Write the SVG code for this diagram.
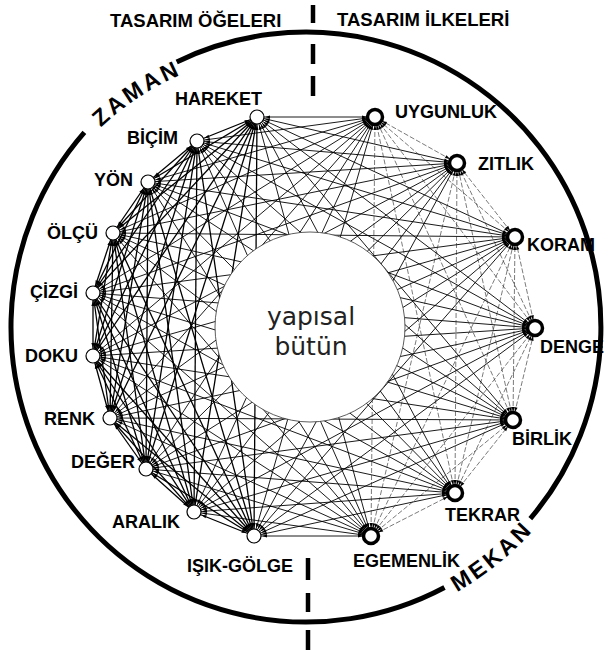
<svg xmlns="http://www.w3.org/2000/svg" width="604" height="655" viewBox="0 0 604 655">
<style>
text{font-family:"Liberation Sans",Arial,sans-serif;fill:#000}
.hd{font-size:18.5px;font-weight:bold}
.lb{font-size:18px;font-weight:bold}
.ring{font-size:23px;font-weight:bold;letter-spacing:3px}
.arc{fill:none;stroke:#000;stroke-width:5}
.dash{stroke:#000;stroke-width:4.5}
#edges path{fill:none;stroke:#000;marker-start:url(#ah);marker-end:url(#ah)}
#edges .ll path{stroke-width:1.3}
#edges .lr path{stroke-width:0.9}
#edges .rr path{stroke-width:0.6;stroke:#222;stroke-dasharray:5 2}
.el{fill:#fff;stroke:#000;stroke-width:1.2}
.pr{fill:#fff;stroke:#000;stroke-width:3.5}
.ct{font-family:"DejaVu Sans",sans-serif;font-size:25px;fill:#222}
</style>
<defs>
<marker id="ah" markerUnits="userSpaceOnUse" markerWidth="12" markerHeight="12" refX="8" refY="0" orient="auto-start-reverse" overflow="visible">
<path d="M0,0 L-5,-1.6 L-5,1.6 Z" fill="#000"/>
</marker>
<path id="zp" d="M72.2,159.1 A279,279 0 0 1 223.0,60.4"/>
<path id="mp" d="M410.3,613.6 A305,305 0 0 0 564.6,488.6"/>
</defs>
<rect width="604" height="655" fill="#fff"/>

<g id="frame">
<path class="arc" d="M176.7,61.9 A295,295 0 0 1 530.3,518.6"/>
<path class="arc" d="M444.5,587.5 A295,295 0 0 1 84.4,132.3"/>
<text class="ring"><textPath href="#zp" startOffset="50%" text-anchor="middle">ZAMAN</textPath></text>
<text class="ring"><textPath href="#mp" startOffset="50%" text-anchor="middle">MEKAN</textPath></text>
<line class="dash" x1="313" y1="5" x2="313" y2="23"/>
<line class="dash" x1="313" y1="44" x2="313" y2="64"/>
<line class="dash" x1="313" y1="76" x2="313" y2="96"/>
<line class="dash" x1="308" y1="558" x2="308" y2="580"/>
<line class="dash" x1="308" y1="593" x2="308" y2="612"/>
<line class="dash" x1="308" y1="630" x2="308" y2="650"/>
<text class="hd" x="110" y="27">TASARIM ÖĞELERI</text>
<text class="hd" x="337" y="26">TASARIM İLKELERİ</text>
</g>

<g id="edges">
<g class="ll">
<path d="M257 117L197 141"/><path d="M257 117L148 182"/><path d="M257 117L113 233"/><path d="M257 117L93 293"/><path d="M257 117L93 356"/><path d="M257 117L110 418"/><path d="M257 117L146 469"/><path d="M257 117L194 512"/><path d="M257 117L254 536"/>
<path d="M197 141L148 182"/><path d="M197 141L113 233"/><path d="M197 141L93 293"/><path d="M197 141L93 356"/><path d="M197 141L110 418"/><path d="M197 141L146 469"/><path d="M197 141L194 512"/><path d="M197 141L254 536"/>
<path d="M148 182L113 233"/><path d="M148 182L93 293"/><path d="M148 182L93 356"/><path d="M148 182L110 418"/><path d="M148 182L146 469"/><path d="M148 182L194 512"/><path d="M148 182L254 536"/>
<path d="M113 233L93 293"/><path d="M113 233L93 356"/><path d="M113 233L110 418"/><path d="M113 233L146 469"/><path d="M113 233L194 512"/><path d="M113 233L254 536"/>
<path d="M93 293L93 356"/><path d="M93 293L110 418"/><path d="M93 293L146 469"/><path d="M93 293L194 512"/><path d="M93 293L254 536"/>
<path d="M93 356L110 418"/><path d="M93 356L146 469"/><path d="M93 356L194 512"/><path d="M93 356L254 536"/>
<path d="M110 418L146 469"/><path d="M110 418L194 512"/><path d="M110 418L254 536"/>
<path d="M146 469L194 512"/><path d="M146 469L254 536"/>
<path d="M194 512L254 536"/>
</g>
<g class="lr">
<path d="M257 117L371 536"/><path d="M257 117L455 493"/><path d="M257 117L513 420"/><path d="M257 117L535 328"/><path d="M257 117L515 237"/><path d="M257 117L457 163"/><path d="M257 117L375 117"/>
<path d="M197 141L371 536"/><path d="M197 141L455 493"/><path d="M197 141L513 420"/><path d="M197 141L535 328"/><path d="M197 141L515 237"/><path d="M197 141L457 163"/><path d="M197 141L375 117"/>
<path d="M148 182L371 536"/><path d="M148 182L455 493"/><path d="M148 182L513 420"/><path d="M148 182L535 328"/><path d="M148 182L515 237"/><path d="M148 182L457 163"/><path d="M148 182L375 117"/>
<path d="M113 233L371 536"/><path d="M113 233L455 493"/><path d="M113 233L513 420"/><path d="M113 233L535 328"/><path d="M113 233L515 237"/><path d="M113 233L457 163"/><path d="M113 233L375 117"/>
<path d="M93 293L371 536"/><path d="M93 293L455 493"/><path d="M93 293L513 420"/><path d="M93 293L535 328"/><path d="M93 293L515 237"/><path d="M93 293L457 163"/><path d="M93 293L375 117"/>
<path d="M93 356L371 536"/><path d="M93 356L455 493"/><path d="M93 356L513 420"/><path d="M93 356L535 328"/><path d="M93 356L515 237"/><path d="M93 356L457 163"/><path d="M93 356L375 117"/>
<path d="M110 418L371 536"/><path d="M110 418L455 493"/><path d="M110 418L513 420"/><path d="M110 418L535 328"/><path d="M110 418L515 237"/><path d="M110 418L457 163"/><path d="M110 418L375 117"/>
<path d="M146 469L371 536"/><path d="M146 469L455 493"/><path d="M146 469L513 420"/><path d="M146 469L535 328"/><path d="M146 469L515 237"/><path d="M146 469L457 163"/><path d="M146 469L375 117"/>
<path d="M194 512L371 536"/><path d="M194 512L455 493"/><path d="M194 512L513 420"/><path d="M194 512L535 328"/><path d="M194 512L515 237"/><path d="M194 512L457 163"/><path d="M194 512L375 117"/>
<path d="M254 536L371 536"/><path d="M254 536L455 493"/><path d="M254 536L513 420"/><path d="M254 536L535 328"/><path d="M254 536L515 237"/><path d="M254 536L457 163"/><path d="M254 536L375 117"/>
</g>
<g class="rr">
<path d="M371 536L455 493"/><path d="M371 536L513 420"/><path d="M371 536L535 328"/><path d="M371 536L515 237"/><path d="M371 536L457 163"/><path d="M371 536L375 117"/>
<path d="M455 493L513 420"/><path d="M455 493L535 328"/><path d="M455 493L515 237"/><path d="M455 493L457 163"/><path d="M455 493L375 117"/>
<path d="M513 420L535 328"/><path d="M513 420L515 237"/><path d="M513 420L457 163"/><path d="M513 420L375 117"/>
<path d="M535 328L515 237"/><path d="M535 328L457 163"/><path d="M535 328L375 117"/>
<path d="M515 237L457 163"/><path d="M515 237L375 117"/>
<path d="M457 163L375 117"/>
</g>
</g>

<g id="center">
<circle cx="310" cy="327" r="95" fill="#fff" stroke="#333" stroke-width="0.8"/>
<text class="ct" x="311" y="325" text-anchor="middle">yapısal</text>
<text class="ct" x="311" y="355" text-anchor="middle">bütün</text>
</g>

<g id="hareket"><circle class="el" cx="257" cy="117" r="7"/><text class="lb" x="175" y="105">HAREKET</text></g>
<g id="bicim"><circle class="el" cx="197" cy="141" r="7"/><text class="lb" x="178" y="144" text-anchor="end">BİÇİM</text></g>
<g id="yon"><circle class="el" cx="148" cy="182" r="7"/><text class="lb" x="133" y="186" text-anchor="end">YÖN</text></g>
<g id="olcu"><circle class="el" cx="113" cy="233" r="7"/><text class="lb" x="98" y="239" text-anchor="end">ÖLÇÜ</text></g>
<g id="cizgi"><circle class="el" cx="93" cy="293" r="7"/><text class="lb" x="78" y="298" text-anchor="end">ÇİZGİ</text></g>
<g id="doku"><circle class="el" cx="93" cy="356" r="7"/><text class="lb" x="78" y="362" text-anchor="end">DOKU</text></g>
<g id="renk"><circle class="el" cx="110" cy="418" r="7"/><text class="lb" x="95" y="425" text-anchor="end">RENK</text></g>
<g id="deger"><circle class="el" cx="146" cy="469" r="7"/><text class="lb" x="135" y="468" text-anchor="end">DEĞER</text></g>
<g id="aralik"><circle class="el" cx="194" cy="512" r="7"/><text class="lb" x="180" y="528" text-anchor="end">ARALIK</text></g>
<g id="isikgolge"><circle class="el" cx="254" cy="536" r="7"/><text class="lb" x="187" y="572">IŞIK-GÖLGE</text></g>
<g id="egemenlik"><circle class="pr" cx="371" cy="536" r="7.5"/><text class="lb" x="353" y="567">EGEMENLİK</text></g>
<g id="tekrar"><circle class="pr" cx="455" cy="493" r="7.5"/><text class="lb" x="445" y="521">TEKRAR</text></g>
<g id="birlik"><circle class="pr" cx="513" cy="420" r="7.5"/><text class="lb" x="512" y="445">BİRLİK</text></g>
<g id="denge"><circle class="pr" cx="535" cy="328" r="7.5"/><text class="lb" x="540" y="353">DENGE</text></g>
<g id="koram"><circle class="pr" cx="515" cy="237" r="7.5"/><text class="lb" x="527" y="251">KORAM</text></g>
<g id="zitlik"><circle class="pr" cx="457" cy="163" r="7.5"/><text class="lb" x="478" y="170">ZITLIK</text></g>
<g id="uygunluk"><circle class="pr" cx="375" cy="117" r="7.5"/><text class="lb" x="395" y="118">UYGUNLUK</text></g>
</svg>
